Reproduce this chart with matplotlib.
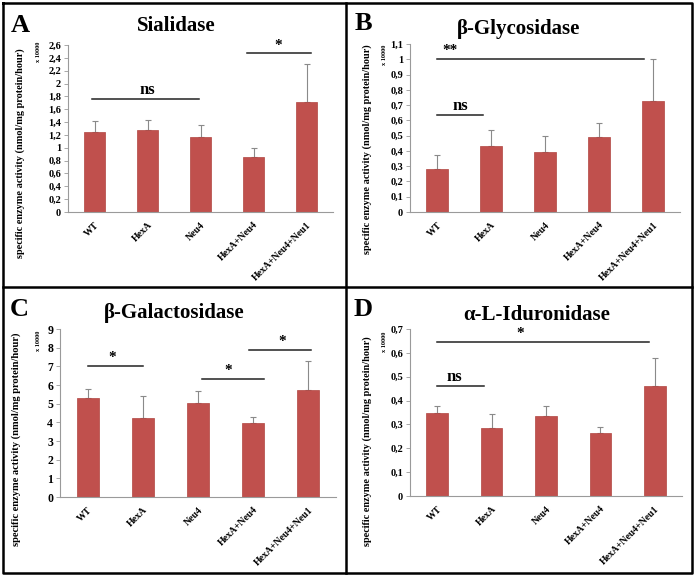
import matplotlib.pyplot as plt
from matplotlib.lines import Line2D

W, H = 695, 577

groups = ["WT", "HexA", "Neu4", "HexA+Neu4", "HexA+Neu4+Neu1"]

# mean values and upper error (top of whisker)
sial = [1.24, 1.28, 1.17, 0.86, 1.72]
sial_err = [0.18, 0.15, 0.18, 0.14, 0.59]
glyc = [0.28, 0.43, 0.39, 0.49, 0.73]
glyc_err = [0.09, 0.11, 0.11, 0.09, 0.27]
gala = [5.32, 4.25, 5.05, 3.97, 5.75]
gala_err = [0.48, 1.15, 0.65, 0.33, 1.55]
idur = [0.35, 0.285, 0.335, 0.262, 0.46]
idur_err = [0.028, 0.06, 0.043, 0.028, 0.12]

sial_ticks = [0, 0.2, 0.4, 0.6, 0.8, 1, 1.2, 1.4, 1.6, 1.8, 2, 2.2, 2.4, 2.6]
glyc_ticks = [0, 0.1, 0.2, 0.3, 0.4, 0.5, 0.6, 0.7, 0.8, 0.9, 1, 1.1]
gala_ticks = [0, 1, 2, 3, 4, 5, 6, 7, 8, 9]
idur_ticks = [0, 0.1, 0.2, 0.3, 0.4, 0.5, 0.6, 0.7]

BAR = "#C0504D"
SERIF = "Liberation Serif"

fig = plt.figure(figsize=(W / 100, H / 100), dpi=100)


def px_axes(x0, x1, ytop, ybot):
    return fig.add_axes([x0 / W, 1 - ybot / H, (x1 - x0) / W, (ybot - ytop) / H])


def fmt(v):
    return ("%g" % v).replace(".", ",")


def panel(ax, vals, errs, ticks, tick_fs):
    x = range(len(vals))
    ax.bar(x, vals, width=0.4, color=BAR, edgecolor="#B04440", linewidth=0.5, zorder=2)
    ax.errorbar(x, vals, yerr=[[0] * len(vals), errs], fmt="none", ecolor="#8a8a8a",
                elinewidth=0.8, capsize=2.5, capthick=0.8, zorder=1)
    ax.set_xlim(-0.5, len(vals) - 0.5)
    ax.set_ylim(0, ticks[-1])
    ax.set_yticks(ticks)
    ax.set_yticklabels([fmt(t) for t in ticks], fontfamily=SERIF, fontweight="bold",
                       fontsize=tick_fs)
    ax.set_xticks(list(x))
    ax.set_xticklabels(groups, rotation=45, ha="right", rotation_mode="anchor",
                       fontfamily=SERIF, fontweight="bold", fontsize=7)
    for s in ["top", "right"]:
        ax.spines[s].set_visible(False)
    for s in ["left", "bottom"]:
        ax.spines[s].set_color("#9a9a9a")
        ax.spines[s].set_linewidth(0.8)
    ax.tick_params(axis="y", length=3, width=0.6, color="#9a9a9a", pad=2)
    ax.tick_params(axis="x", length=0, pad=6)


def sig(ax, x0, x1, y, label, tx, fs=12):
    ax.plot([x0, x1], [y, y], color="#222222", lw=1.1, clip_on=False)
    ax.annotate(label, (tx, y), xytext=(0, 1), textcoords="offset points",
                ha="center", va="bottom", fontfamily=SERIF, fontweight="bold",
                fontsize=fs, annotation_clip=False)


def ftext(x, y, s, **kw):
    fig.text(x / W, 1 - y / H, s, fontfamily=SERIF, fontweight="bold", **kw)


ylabel = "specific enzyme activity (nmol/mg protein/hour)"

# A
axA = px_axes(68, 333, 45, 212)
panel(axA, sial, sial_err, sial_ticks, 7.5)
sig(axA, -0.05, 1.98, 1.755, "ns", 1.0)
sig(axA, 2.87, 4.09, 2.475, "*", 3.46, fs=11)
ftext(20, 26, "A", fontsize=19, ha="center", va="center")
ftext(176, 26, "Sialidase", fontsize=15, ha="center", va="center")
ftext(20, 153, ylabel, fontsize=7.4, rotation=90, ha="center", va="center")
ftext(38, 52, "x 10000", fontsize=4.5, rotation=90, ha="center", va="center")

# B
axB = px_axes(410, 680, 44, 212)
panel(axB, glyc, glyc_err, glyc_ticks, 7.5)
sig(axB, 0, 3.83, 1.005, "**", 0.24, fs=11)
sig(axB, 0, 0.85, 0.632, "ns", 0.43)
ftext(363, 23, "B", fontsize=19, ha="center", va="center")
ftext(519, 29, "β-Glycosidase", fontsize=15, ha="center", va="center")
ftext(367, 149, ylabel, fontsize=7.4, rotation=90, ha="center", va="center")
ftext(385, 55, "x 10000", fontsize=4.5, rotation=90, ha="center", va="center")

# C
axC = px_axes(60, 336, 329, 497)
panel(axC, gala, gala_err, gala_ticks, 8.5)
sig(axC, 0, 1.0, 7.03, "*", 0.45, fs=11)
sig(axC, 2.07, 3.2, 6.33, "*", 2.55, fs=11)
sig(axC, 2.93, 4.04, 7.9, "*", 3.52, fs=11)
ftext(19, 310, "C", fontsize=19, ha="center", va="center")
ftext(174, 313, "β-Galactosidase", fontsize=15, ha="center", va="center")
ftext(16, 439, ylabel, fontsize=7.6, rotation=90, ha="center", va="center")
ftext(38, 341, "x 10000", fontsize=4.5, rotation=90, ha="center", va="center")

# D
axD = px_axes(410, 682, 329, 496)
panel(axD, idur, idur_err, idur_ticks, 7.5)
sig(axD, 0, 3.9, 0.647, "*", 1.53, fs=11)
sig(axD, 0, 0.86, 0.461, "ns", 0.31)
ftext(363, 310, "D", fontsize=19, ha="center", va="center")
ftext(537, 315, "α-L-Iduronidase", fontsize=15, ha="center", va="center")
ftext(367, 441, ylabel, fontsize=7.4, rotation=90, ha="center", va="center")
ftext(385, 342, "x 10000", fontsize=4.5, rotation=90, ha="center", va="center")


# panel frames
def fline(xs, ys, lw=1.8):
    fig.add_artist(Line2D([v / W for v in xs], [1 - v / H for v in ys],
                          color="black", lw=lw, transform=fig.transFigure))


fline([3, 692, 692, 3, 3], [3, 3, 573, 573, 3])
fline([346, 346], [3, 573])
fline([3, 692], [287, 287])

fig.savefig("out.png", dpi=100)
